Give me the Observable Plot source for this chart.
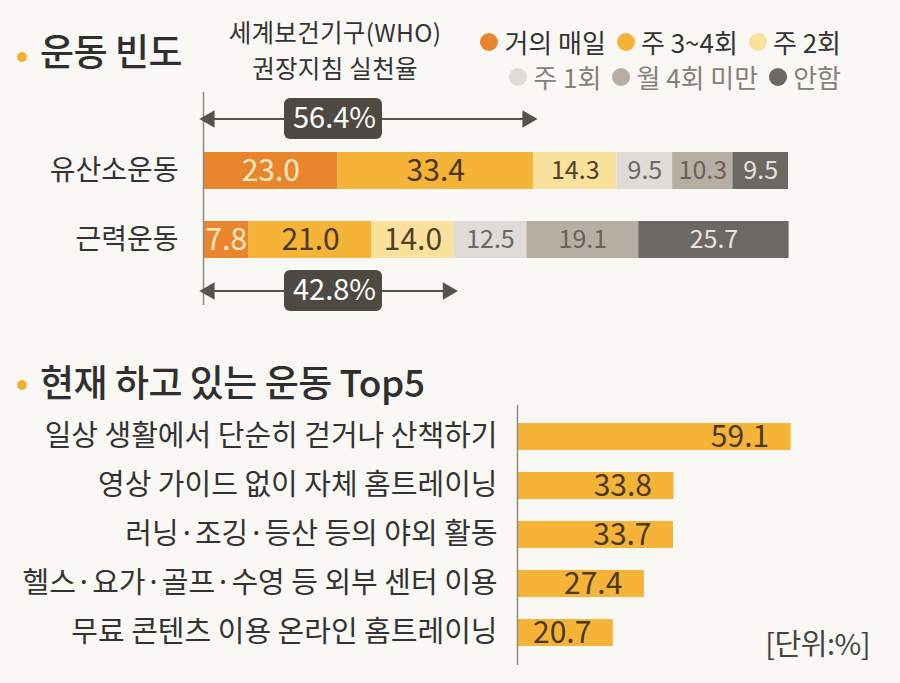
<!DOCTYPE html>
<html>
<head>
<meta charset="utf-8">
<script src="https://cdn.jsdelivr.net/npm/d3@7"></script>
<script src="https://cdn.jsdelivr.net/npm/@observablehq/plot@0.6"></script>
<style>
  body { margin: 0; background: #f9f8f4; }
  #page { position: relative; width: 900px; height: 683px; overflow: hidden;
          font-family: "Noto Sans CJK KR", "Noto Sans", sans-serif; color: #333; }
  .abs { position: absolute; }
  .title { font-size: 37px; font-weight: 500; line-height: 1; letter-spacing: -0.5px; color: #2f2f2f; white-space: nowrap; }
  .bullet { width: 10px; height: 10px; border-radius: 50%; background: #f2b134; }
  .who { left: 185px; width: 300px; text-align: center; font-size: 24.5px; line-height: 1; letter-spacing: 0.3px; color: #333; white-space: nowrap; }
  .legend-row { right: 59px; display: flex; align-items: center; gap: 11px; font-size: 26px; line-height: 1; white-space: nowrap; }
  .legend-item { display: flex; align-items: center; gap: 6px; }
  .swatch { width: 18px; height: 18px; border-radius: 50%; }
  .unit { right: 30px; top: 628px; font-size: 29px; line-height: 1; color: #444; letter-spacing: -0.5px; }
  svg { position: absolute; left: 0; }
</style>
</head>
<body>
<div id="page">
  <div class="abs bullet" style="left:17px; top:52px;"></div>
  <div class="abs title" style="left:40px; top:32px;">운동 빈도</div>
  <div class="abs who" style="top:20px;">세계보건기구(WHO)</div>
  <div class="abs who" style="top:56px;">권장지침 실천율</div>
  <div class="abs bullet" style="left:17px; top:380px;"></div>
  <div class="abs title" style="left:40px; top:363px;">현재 하고 있는 운동 Top5</div>
  <div class="abs unit">[단위:%]</div>
</div>
<script>
// Exercise frequency (share of respondents, %)
const frequencyLevels = ["거의 매일", "주 3~4회", "주 2회", "주 1회", "월 4회 미만", "안함"];
const exerciseTypes = ["유산소운동", "근력운동"];
const aerobicShares = [23.0, 33.4, 14.3, 9.5, 10.3, 9.5];
const strengthShares = [7.8, 21.0, 14.0, 12.5, 19.1, 25.7];
// Share meeting the WHO guideline, per exercise type
const whoRates = [56.4, 42.8];

// Top 5 exercises currently done (%)
const activities = [
  "일상 생활에서 단순히 걷거나 산책하기",
  "영상 가이드 없이 자체 홈트레이닝",
  "러닝·조깅·등산 등의 야외 활동",
  "헬스·요가·골프·수영 등 외부 센터 이용",
  "무료 콘텐츠 이용 온라인 홈트레이닝"
];
const activityShares = [59.1, 33.8, 33.7, 27.4, 20.7];

// ---- styling ----
const palette = ["#e9862d", "#f5b337", "#fbe29c", "#dfdcd7", "#b8ada2", "#6c6863"];
const labelInk = ["#fde8c4", "#4a3a1c", "#4f4126", "#6d6862", "#6b6158", "#e6e3de"];
const fontFamily = '"Noto Sans CJK KR", "Noto Sans", sans-serif';
const arrowInk = "#57524c";
const axisInk = "#8d8983";

const sharesByType = [aerobicShares, strengthShares];
const frequencyData = exerciseTypes.flatMap((type, i) =>
  frequencyLevels.map((level, j) => ({type, level, levelIndex: j, share: sharesByType[i][j]}))
);
const rateData = exerciseTypes.map((type, i) => ({type, rate: whoRates[i]}));
const activityData = activities.map((activity, i) => ({activity, share: activityShares[i]}));

// Larger numerals for the leading (more frequent) segments
const emphasized = d => d.levelIndex < 2 || (d.type === "근력운동" && d.levelIndex === 2);

// Double-headed arrow with a rounded value badge, offset above/below a bar
function rateAnnotation(d, offset) {
  const rows = [d];
  return [
    Plot.ruleY(rows, {y: "type", x1: 0, x2: "rate", dy: offset, stroke: arrowInk, strokeWidth: 2}),
    Plot.dot(rows, {x: 0, y: "type", dy: offset, dx: 6, symbol: "triangle", r: 6.5, rotate: -90, fill: arrowInk, stroke: null}),
    Plot.dot(rows, {x: "rate", y: "type", dy: offset, dx: -6, symbol: "triangle", r: 6.5, rotate: 90, fill: arrowInk, stroke: null}),
    Plot.barX(rows, {x1: 0, x2: 0, y: "type", dy: offset, insetLeft: 81, insetRight: -179, insetTop: -2, insetBottom: -2, rx: 6, fill: "#4f4943"}),
    Plot.text(rows, {x: 0, y: "type", dy: offset, dx: 131, text: r => r.rate.toFixed(1) + "%", fill: "#ffffff", fontSize: 29, letterSpacing: "-0.8px"})
  ];
}

const frequencyChart = Plot.plot({
  width: 900,
  height: 230,
  marginLeft: 203,
  marginRight: 112,
  marginTop: 51,
  marginBottom: 41,
  x: {domain: [0, 100], axis: null},
  y: {domain: exerciseTypes, paddingInner: 0.464, paddingOuter: 0.232, axis: null},
  color: {domain: frequencyLevels, range: palette},
  style: {background: "transparent", fontFamily, color: "#333", overflow: "visible"},
  marks: [
    Plot.axisY({tickSize: 0, tickPadding: 25, fontSize: 28, letterSpacing: "-1.5px", label: null}),
    Plot.barX(frequencyData, {x: "share", y: "type", fill: "level"}),
    Plot.text(frequencyData, Plot.stackX({
      x: "share", y: "type", z: "level",
      text: d => d.share.toFixed(1),
      fontSize: d => emphasized(d) ? 30 : 25,
      fill: d => labelInk[d.levelIndex],
      letterSpacing: "-0.5px"
    })),
    Plot.ruleX([0], {insetTop: -44, insetBottom: -31, stroke: axisInk, strokeWidth: 1.5}),
    ...rateAnnotation(rateData[0], -52),
    ...rateAnnotation(rateData[1], 51)
  ]
});

const activityChart = Plot.plot({
  width: 900,
  height: 272,
  marginLeft: 517,
  marginRight: 12.6,
  marginTop: 11,
  marginBottom: 14,
  x: {domain: [0, 80], axis: null},
  y: {domain: activities, paddingInner: 0.4545, paddingOuter: 0.227, axis: null},
  style: {background: "transparent", fontFamily, color: "#333", overflow: "visible"},
  marks: [
    Plot.axisY({tickSize: 0, tickPadding: 20, fontSize: 29, letterSpacing: "-1.2px", label: null}),
    Plot.barX(activityData, {x: "share", y: "activity", fill: "#f5b337"}),
    Plot.text(activityData, {
      x: "share", y: "activity",
      text: d => d.share.toFixed(1),
      textAnchor: "end", dx: -22,
      fontSize: 30, fill: "#4a3a1c"
    }),
    Plot.ruleX([0], {insetTop: -6, insetBottom: -7, stroke: axisInk, strokeWidth: 1.5})
  ]
});

const page = document.getElementById("page");
frequencyChart.style.top = "85px";
activityChart.style.top = "400px";
page.appendChild(frequencyChart);
page.appendChild(activityChart);

// Legend built from the chart's own color scale, two right-aligned rows
const colorScale = frequencyChart.scale("color");
const rows = [colorScale.domain.slice(0, 3), colorScale.domain.slice(3)];
rows.forEach((levels, r) => {
  const row = document.createElement("div");
  row.className = "abs legend-row";
  row.style.top = (r === 0 ? 29 : 64) + "px";
  row.style.color = r === 0 ? "#333" : "#85807a";
  levels.forEach(level => {
    const item = document.createElement("div");
    item.className = "legend-item";
    const sw = document.createElement("span");
    sw.className = "swatch";
    sw.style.background = colorScale.apply(level);
    const label = document.createElement("span");
    label.textContent = level;
    item.append(sw, label);
    row.appendChild(item);
  });
  page.appendChild(row);
});
</script>
</body>
</html>
